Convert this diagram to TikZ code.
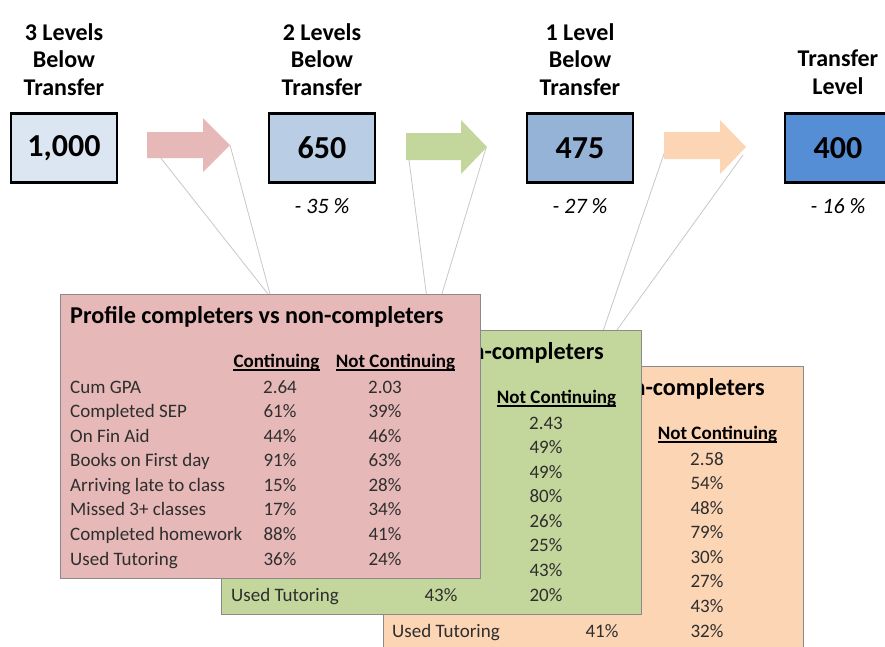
\documentclass[tikz,border=0pt]{standalone}
\usepackage{fontspec}
\setmainfont{Carlito}
\definecolor{pinkfill}{HTML}{E6B9B8}
\definecolor{greenfill}{HTML}{C3D69B}
\definecolor{orangefill}{HTML}{FCD5B5}
\definecolor{blueA}{HTML}{DCE6F2}
\definecolor{blueB}{HTML}{B9CDE5}
\definecolor{blueC}{HTML}{95B3D7}
\definecolor{blueD}{HTML}{558ED5}
\definecolor{rowtext}{HTML}{2E2E2E}
\definecolor{conncol}{HTML}{C8C8C8}
\definecolor{panelborder}{HTML}{8A8A8A}
\begin{document}
\begin{tikzpicture}[x=1pt,y=-1pt,
  toplbl/.style={anchor=north, align=center, inner sep=0pt, font=\bfseries\fontsize{24}{27.5}\selectfont},
  numbox/.style={draw=black, line width=2.5pt, minimum width=106pt, minimum height=69pt, inner sep=0pt, font=\bfseries\fontsize{32}{36}\selectfont},
  pct/.style={anchor=base, inner sep=0pt, font=\itshape\fontsize{22}{26}\selectfont},
  conn/.style={draw=conncol, line width=0.8pt},
  panelbox/.style={draw=panelborder, line width=0.8pt, anchor=north west, minimum width=420pt, minimum height=284pt, inner sep=0pt},
  ptitle/.style={anchor=base west, inner sep=0pt, font=\bfseries\fontsize{24.2}{27}\selectfont},
  phdr/.style={anchor=base, inner sep=0pt, font=\bfseries\fontsize{19}{22}\selectfont},
  plbl/.style={anchor=base west, inner sep=0pt, text=rowtext, font=\fontsize{19}{22}\selectfont},
  pval/.style={anchor=base, inner sep=0pt, text=rowtext, font=\fontsize{19}{22}\selectfont}
]
\useasboundingbox (0,0) rectangle (885,646);
\clip (0,0) rectangle (885,646);
\fill[white] (0,0) rectangle (885,646);

% ---------- connector end points ----------
\coordinate (pinkL) at (160,157);
\coordinate (pinkT) at (230,145);
\coordinate (greenL) at (409,160);
\coordinate (greenT) at (486,148);
\coordinate (orangeL) at (666,148);
\coordinate (orangeT) at (743,155);
\coordinate (redA) at (268,294);
\coordinate (redB) at (270,294);
\coordinate (grnA) at (431,330);
\coordinate (ornA) at (591,366);

% ---------- connectors ----------
\draw[conn] (pinkL) -- (redA);
\draw[conn] (pinkT) -- (redB);
\draw[conn] (greenL) -- (grnA);
\draw[conn] (greenT) -- (grnA);
\draw[conn] (orangeL) -- (ornA);
\draw[conn] (orangeT) -- (ornA);

% ---------- block arrows ----------
\fill[pinkfill] (147,132) -- (203,132) -- (203,118) -- (230,145) -- (203,172) -- (203,158) -- (147,158) -- cycle;
\fill[greenfill] (406,133) -- (461,133) -- (461,120) -- (487,147) -- (461,174) -- (461,160) -- (406,160) -- cycle;
\fill[orangefill] (664,132) -- (720,132) -- (720,120) -- (746,147) -- (720,174) -- (720,159) -- (664,159) -- cycle;

% ---------- orange panel (back) ----------
\node[panelbox, fill=orangefill] (pO) at (383,366) {};
\node[ptitle, anchor=base east] (oTitle) at (765,395) {n-completers};
\node[phdr] (oH2) at (717.5,439) {Not Continuing};
\draw[line width=1.2pt] ([yshift=-3pt]oH2.base west) -- ([yshift=-3pt]oH2.base east);
\foreach \v [count=\i from 0] in {2.58,54\%,48\%,79\%,30\%,27\%,43\%,32\%}
  \node[pval] (oN\i) at (707,{465+24.57*\i}) {\v};
\node[plbl] (oL7) at (392,637) {Used Tutoring};
\node[pval] (oC7) at (602,637) {41\%};

% ---------- green panel (middle) ----------
\node[panelbox, fill=greenfill] (pG) at (221,330) {};
\node[ptitle, anchor=base east] (gTitle) at (604,359) {n-completers};
\node[phdr] (gH2) at (556.5,403) {Not Continuing};
\draw[line width=1.2pt] ([yshift=-3pt]gH2.base west) -- ([yshift=-3pt]gH2.base east);
\foreach \v [count=\i from 0] in {2.43,49\%,49\%,80\%,26\%,25\%,43\%,20\%}
  \node[pval] (gN\i) at (546,{429+24.57*\i}) {\v};
\node[plbl] (gL7) at (231,601) {Used Tutoring};
\node[pval] (gC7) at (441,601) {43\%};

% ---------- red panel (front) ----------
\node[panelbox, fill=pinkfill] (pR) at (60,294) {};
\node[ptitle] (rTitle) at (70,323) {Profile completers vs non-completers};
\node[phdr] (rH1) at (276.5,367) {Continuing};
\node[phdr] (rH2) at (395.5,367) {Not Continuing};
\draw[line width=1.2pt] ([yshift=-3pt]rH1.base west) -- ([yshift=-3pt]rH1.base east);
\draw[line width=1.2pt] ([yshift=-3pt]rH2.base west) -- ([yshift=-3pt]rH2.base east);
\foreach \lab/\c/\n [count=\i from 0] in {Cum GPA/2.64/2.03, Completed SEP/61\%/39\%, On Fin Aid/44\%/46\%, Books on First day/91\%/63\%, Arriving late to class/15\%/28\%, Missed 3+ classes/17\%/34\%, Completed homework/88\%/41\%, Used Tutoring/36\%/24\%}{
  \node[plbl] (rL\i) at (70,{393+24.57*\i}) {\lab};
  \node[pval] (rC\i) at (280,{393+24.57*\i}) {\c};
  \node[pval] (rN\i) at (385,{393+24.57*\i}) {\n};
}

% ---------- top row ----------
\node[toplbl] (t1) at (64,23) {3 Levels\\Below\\Transfer};
\node[toplbl] (t2) at (322,23) {2 Levels\\Below\\Transfer};
\node[toplbl] (t3) at (580,23) {1 Level\\Below\\Transfer};
\node[toplbl] (t4) at (838,50) {Transfer\\Level};

\node[numbox, fill=blueA] (b1) at (64,148) {1,000};
\node[numbox, fill=blueB] (b2) at (322,148) {650};
\node[numbox, fill=blueC] (b3) at (580,148) {475};
\node[numbox, fill=blueD] (b4) at (838,148) {400};

\node[pct] (p2) at (322,213) {- 35 \%};
\node[pct] (p3) at (580,213) {- 27 \%};
\node[pct] (p4) at (838,213) {- 16 \%};
\end{tikzpicture}
\end{document}
